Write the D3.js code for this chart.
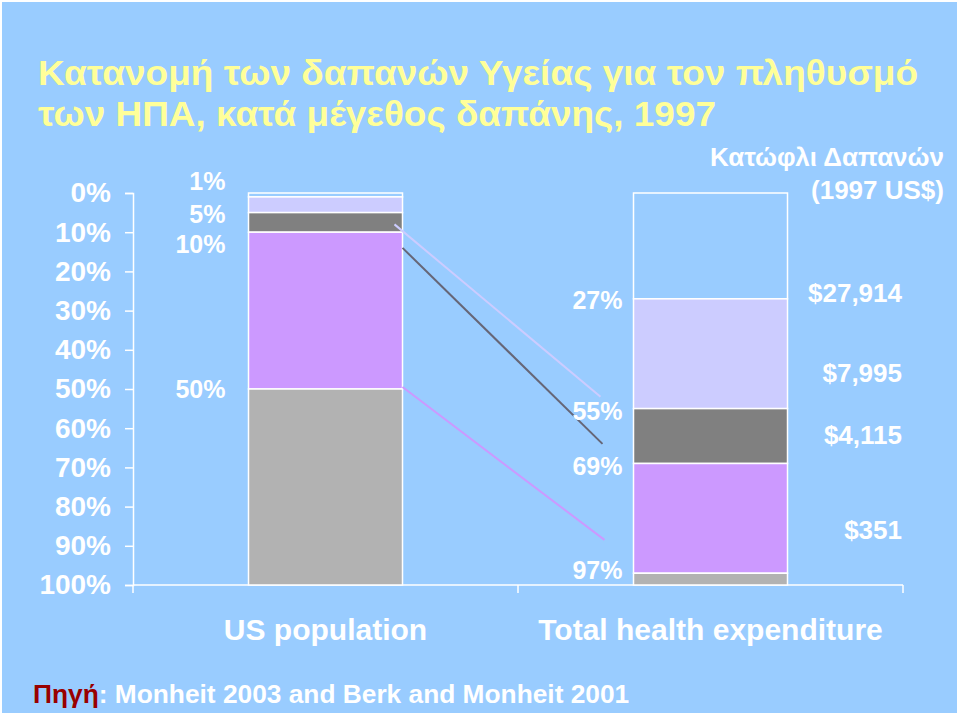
<!DOCTYPE html>
<html><head><meta charset="utf-8">
<script src="https://cdn.jsdelivr.net/npm/d3@7"></script>
<style>
html,body{margin:0;padding:0;background:#fff;}
svg{display:block;}
text{font-family:"Liberation Sans",Arial,sans-serif;font-weight:bold;}
</style></head>
<body>
<script>
// ---- data ----
const categories = ["US population", "Total health expenditure"];
const segmentNames = ["top", "next", "mid", "upper", "bottom"];
const segmentColors = ["#99CCFF", "#CCCCFF", "#808080", "#CC99FF", "#B2B2B2"];
// cumulative boundaries (percent from top) for each bar
const populationBreaks = [0, 1, 5, 10, 50, 100];
const expenditureBreaks = [0, 27, 55, 69, 97, 100];
const populationLabels = ["1%", "5%", "10%", "50%"];
const populationLabelPos = [-3.1, 5.4, 13, 50];
const expenditureLabels = ["27%", "55%", "69%", "97%"];
const expenditureLabelPos = [27.3, 55.6, 69.6, 96.2];
const thresholdLabels = ["$27,914", "$7,995", "$4,115", "$351"];
const thresholdLabelPos = [25.3, 45.7, 61.7, 86];
const yTicks = [0, 10, 20, 30, 40, 50, 60, 70, 80, 90, 100];
// connector lines (percent at population bar -> percent near expenditure bar)
const connFrom = [8, 14, 49.5];
const connTo = [52, 64, 88.5];
const connColors = ["#CCCCFF", "#666677", "#CC99FF"];
const titleLines = ["Κατανομή των δαπανών Υγείας για τον πληθυσμό", "των ΗΠΑ, κατά μέγεθος δαπάνης, 1997"];
const thresholdHeader = ["Κατώφλι Δαπανών", "(1997 US$)"];

const W = 960, H = 716;
const svg = d3.select("body").append("svg").attr("width", W).attr("height", H);
svg.append("rect").attr("width", W).attr("height", H).attr("fill", "#FFFFFF");
svg.append("rect").attr("x", 2).attr("y", 2).attr("width", W - 5).attr("height", H - 5).attr("fill", "#99CCFF");

const plotL = 133, plotR = 903, plotT = 193, plotB = 585;
const y = d3.scaleLinear().domain([0, 100]).range([plotT, plotB]);
const x = d3.scaleBand().domain(categories).range([plotL, plotR]).paddingInner(0.6).paddingOuter(0.3);

// title
svg.append("g").selectAll("text").data(titleLines).join("text")
  .attr("x", 38).attr("y", (d, i) => 85 + i * 41)
  .attr("fill", "#FFFF99").attr("font-size", 35)
  .attr("textLength", (d, i) => i === 0 ? 880 : 678).attr("lengthAdjust", "spacingAndGlyphs")
  .text(d => d);

// y axis
const yAxis = d3.axisLeft(y).tickValues(yTicks).tickFormat(d => d + "%").tickSize(8).tickPadding(14);
const gy = svg.append("g").attr("transform", `translate(${plotL},0)`).call(yAxis);
gy.select(".domain").attr("stroke", "#FFFFFF").attr("stroke-width", 1.5);
gy.selectAll(".tick line").attr("stroke", "#FFFFFF").attr("stroke-width", 1.5);
gy.selectAll(".tick text").attr("fill", "#FFFFFF").attr("font-size", 28)
  .style("font-family", '"Liberation Sans",Arial,sans-serif').style("font-weight", "bold");

// x axis
const gx = svg.append("g");
gx.append("line").attr("x1", plotL).attr("x2", plotR).attr("y1", plotB).attr("y2", plotB)
  .attr("stroke", "#FFFFFF").attr("stroke-width", 1.5);
const xTicks = [plotL, (plotL + plotR) / 2, plotR];
gx.selectAll("line.t").data(xTicks).join("line").attr("class", "t")
  .attr("x1", d => d).attr("x2", d => d).attr("y1", plotB).attr("y2", plotB + 8)
  .attr("stroke", "#FFFFFF").attr("stroke-width", 1.5);
gx.selectAll("text").data(categories).join("text")
  .attr("x", d => x(d) + x.bandwidth() / 2)
  .attr("y", 640).attr("text-anchor", "middle").attr("fill", "#FFFFFF").attr("font-size", 30)
  .text(d => d);

// bars
const barData = [populationBreaks, expenditureBreaks];
barData.forEach((br, bi) => {
  const segs = segmentNames.map((n, i) => ({ n, y0: br[i], y1: br[i + 1], c: segmentColors[i] }));
  svg.append("g").selectAll("rect").data(segs).join("rect")
    .attr("x", x(categories[bi])).attr("width", x.bandwidth())
    .attr("y", d => y(d.y0)).attr("height", d => y(d.y1) - y(d.y0))
    .attr("fill", d => d.c).attr("stroke", "#FFFFFF").attr("stroke-width", 1.5);
});

// connectors
const x1 = x(categories[0]) + x.bandwidth();
const x2 = x(categories[1]);
svg.append("g").selectAll("line").data(connFrom).join("line")
  .attr("x1", (d, i) => i === 0 ? x1 - 8 : x1)
  .attr("y1", d => y(d))
  .attr("x2", (d, i) => x2 - 33 + i * 2)
  .attr("y2", (d, i) => y(connTo[i]))
  .attr("stroke", (d, i) => connColors[i]).attr("stroke-width", 2);

// population labels
svg.append("g").selectAll("text").data(populationLabels).join("text")
  .attr("x", x(categories[0]) - 23).attr("y", (d, i) => y(populationLabelPos[i])).attr("dy", "0.36em")
  .attr("text-anchor", "end").attr("fill", "#FFFFFF").attr("font-size", 25)
  .text(d => d);

// expenditure labels
svg.append("g").selectAll("text").data(expenditureLabels).join("text")
  .attr("x", x(categories[1]) - 11).attr("y", (d, i) => y(expenditureLabelPos[i])).attr("dy", "0.36em")
  .attr("text-anchor", "end").attr("fill", "#FFFFFF").attr("font-size", 25)
  .text(d => d);

// threshold labels
svg.append("g").selectAll("text").data(thresholdLabels).join("text")
  .attr("x", 902).attr("y", (d, i) => y(thresholdLabelPos[i])).attr("dy", "0.36em")
  .attr("text-anchor", "end").attr("fill", "#FFFFFF").attr("font-size", 26)
  .text(d => d);
svg.append("g").selectAll("text").data(thresholdHeader).join("text")
  .attr("x", 944).attr("y", (d, i) => 166 + i * 33)
  .attr("text-anchor", "end").attr("fill", "#FFFFFF").attr("font-size", 26)
  .text(d => d);

// source
const src = svg.append("text").attr("x", 33).attr("y", 703).attr("font-size", 26.3);
src.append("tspan").attr("fill", "#990000").text("Πηγή");
src.append("tspan").attr("fill", "#FFFFFF").text(": Monheit 2003 and Berk and Monheit 2001");
</script>
</body></html>
